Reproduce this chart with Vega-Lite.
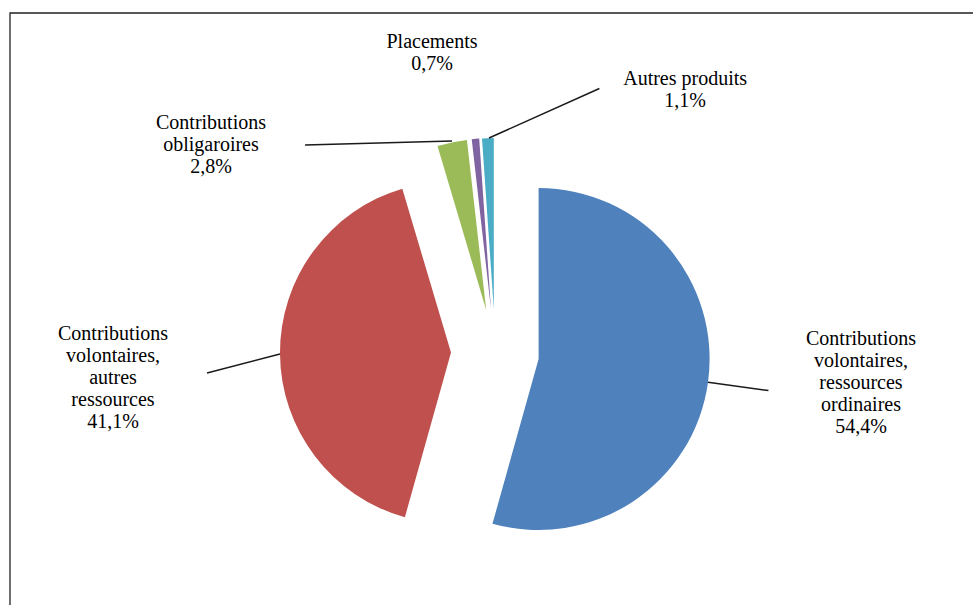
{
  "$schema": "https://vega.github.io/schema/vega-lite/v6.json",
  "autosize": "none",
  "width": 963,
  "height": 592,
  "padding": {"left": 10, "top": 13, "right": 0, "bottom": 0},
  "background": "white",
  "config": {"view": {"stroke": null}},
  "data": {
    "values": [
      {"cat": "Contributions volontaires, ressources ordinaires", "value": 54.4, "order": 1, "label": "Contributions\nvolontaires,\nressources\nordinaires\n54,4%"},
      {"cat": "Contributions volontaires, autres ressources", "value": 41.1, "order": 2, "label": "Contributions\nvolontaires,\nautres\nressources\n41,1%"},
      {"cat": "Contributions obligatoires", "value": 2.8, "order": 3, "label": "Contributions\nobligaroires\n2,8%"},
      {"cat": "Placements", "value": 0.7, "order": 4, "label": "Placements\n0,7%"},
      {"cat": "Autres produits", "value": 1.1, "order": 5, "label": "Autres produits\n1,1%"}
    ]
  },
  "transform": [
    {"stack": "value", "groupby": [], "sort": [{"field": "order", "order": "ascending"}], "as": ["start", "end"]}
  ],
  "layer": [
    {
      "transform": [{"filter": "datum.order == 1"}],
      "mark": {"type": "rect", "fill": "transparent", "stroke": "#222222", "strokeWidth": 1.3, "strokeDash": [963, 1555, 592]},
      "encoding": {}
    },
    {
      "transform": [{"filter": "datum.order == 1"}],
      "mark": {"type": "arc", "outerRadius": 171, "xOffset": 47.1, "yOffset": 50},
      "encoding": {
        "theta": {"field": "start", "type": "quantitative", "scale": {"domain": [0, 100.1]}},
        "theta2": {"field": "end"},
        "color": {"field": "cat", "type": "nominal", "legend": null, "scale": {"domain": ["Contributions volontaires, ressources ordinaires", "Contributions volontaires, autres ressources", "Contributions obligatoires", "Placements", "Autres produits"], "range": ["#4F81BD", "#C0504D", "#9BBB59", "#8064A2", "#4BACC6"]}}
      }
    },
    {
      "transform": [{"filter": "datum.order == 2"}],
      "mark": {"type": "arc", "outerRadius": 171, "xOffset": -40.5, "yOffset": 43.6},
      "encoding": {
        "theta": {"field": "start", "type": "quantitative", "scale": {"domain": [0, 100.1]}},
        "theta2": {"field": "end"},
        "color": {"field": "cat", "type": "nominal", "legend": null}
      }
    },
    {
      "transform": [{"filter": "datum.order == 3"}],
      "mark": {"type": "arc", "outerRadius": 171, "xOffset": -5.3, "yOffset": 0.9},
      "encoding": {
        "theta": {"field": "start", "type": "quantitative", "scale": {"domain": [0, 100.1]}},
        "theta2": {"field": "end"},
        "color": {"field": "cat", "type": "nominal", "legend": null}
      }
    },
    {
      "transform": [{"filter": "datum.order == 4"}],
      "mark": {"type": "arc", "outerRadius": 171, "xOffset": -0.5, "yOffset": 0.2},
      "encoding": {
        "theta": {"field": "start", "type": "quantitative", "scale": {"domain": [0, 100.1]}},
        "theta2": {"field": "end"},
        "color": {"field": "cat", "type": "nominal", "legend": null}
      }
    },
    {
      "transform": [{"filter": "datum.order == 5"}],
      "mark": {"type": "arc", "outerRadius": 171, "xOffset": 2.3, "yOffset": 0},
      "encoding": {
        "theta": {"field": "start", "type": "quantitative", "scale": {"domain": [0, 100.1]}},
        "theta2": {"field": "end"},
        "color": {"field": "cat", "type": "nominal", "legend": null}
      }
    },
    {
      "transform": [{"filter": "datum.order == 1"}, {"fold": ["start", "end"], "as": ["k", "ang"]}, {"aggregate": [{"op": "mean", "field": "ang", "as": "mid"}], "groupby": ["cat"]}],
      "mark": {"type": "arc", "innerRadius": 171, "outerRadius": 232, "xOffset": 47.1, "yOffset": 50, "fill": "transparent", "stroke": "#1a1a1a", "strokeWidth": 1.5},
      "encoding": {
        "theta": {"field": "mid", "type": "quantitative", "scale": {"domain": [0, 100.1]}},
        "theta2": {"field": "mid"}
      }
    },
    {
      "transform": [{"filter": "datum.order == 2"}, {"fold": ["start", "end"], "as": ["k", "ang"]}, {"aggregate": [{"op": "mean", "field": "ang", "as": "mid"}], "groupby": ["cat"]}],
      "mark": {"type": "arc", "innerRadius": 0, "outerRadius": 75.4, "xOffset": -211.5, "yOffset": 45, "thetaOffset": -0.247, "theta2Offset": -0.247, "fill": "transparent", "stroke": "#1a1a1a", "strokeWidth": 1.5},
      "encoding": {
        "theta": {"field": "mid", "type": "quantitative", "scale": {"domain": [0, 100.1]}},
        "theta2": {"field": "mid"}
      }
    },
    {
      "transform": [{"filter": "datum.order == 3"}, {"fold": ["start", "end"], "as": ["k", "ang"]}, {"aggregate": [{"op": "mean", "field": "ang", "as": "mid"}], "groupby": ["cat"]}],
      "mark": {"type": "arc", "innerRadius": 0, "outerRadius": 147, "xOffset": -39.5, "yOffset": -168, "thetaOffset": -1.3973, "theta2Offset": -1.3973, "fill": "transparent", "stroke": "#1a1a1a", "strokeWidth": 1.5},
      "encoding": {
        "theta": {"field": "mid", "type": "quantitative", "scale": {"domain": [0, 100.1]}},
        "theta2": {"field": "mid"}
      }
    },
    {
      "transform": [{"filter": "datum.order == 5"}, {"fold": ["start", "end"], "as": ["k", "ang"]}, {"aggregate": [{"op": "mean", "field": "ang", "as": "mid"}], "groupby": ["cat"]}],
      "mark": {"type": "arc", "innerRadius": 0, "outerRadius": 121, "xOffset": -2.5, "yOffset": -171, "thetaOffset": 1.1837, "theta2Offset": 1.1837, "fill": "transparent", "stroke": "#1a1a1a", "strokeWidth": 1.5},
      "encoding": {
        "theta": {"field": "mid", "type": "quantitative", "scale": {"domain": [0, 100.1]}},
        "theta2": {"field": "mid"}
      }
    },
    {
      "transform": [{"filter": "datum.order == 1"}, {"fold": ["start", "end"], "as": ["k", "ang"]}, {"aggregate": [{"op": "mean", "field": "ang", "as": "mid"}], "groupby": ["cat", "label"]}],
      "mark": {"type": "text", "radius": 366, "dx": 6.9, "dy": -20.2, "font": "Liberation Serif", "fontSize": 20, "lineHeight": 22.2, "lineBreak": "\n", "align": "center", "baseline": "middle", "color": "#000000"},
      "encoding": {
        "theta": {"field": "mid", "type": "quantitative", "scale": {"domain": [0, 100.1]}},
        "text": {"field": "label", "type": "nominal"}
      }
    },
    {
      "transform": [{"filter": "datum.order == 2"}, {"fold": ["start", "end"], "as": ["k", "ang"]}, {"aggregate": [{"op": "mean", "field": "ang", "as": "mid"}], "groupby": ["cat", "label"]}],
      "mark": {"type": "text", "radius": 380, "dx": 1.5, "dy": 21.6, "font": "Liberation Serif", "fontSize": 20, "lineHeight": 22.2, "lineBreak": "\n", "align": "center", "baseline": "middle", "color": "#000000"},
      "encoding": {
        "theta": {"field": "mid", "type": "quantitative", "scale": {"domain": [0, 100.1]}},
        "text": {"field": "label", "type": "nominal"}
      }
    },
    {
      "transform": [{"filter": "datum.order == 3"}, {"fold": ["start", "end"], "as": ["k", "ang"]}, {"aggregate": [{"op": "mean", "field": "ang", "as": "mid"}], "groupby": ["cat", "label"]}],
      "mark": {"type": "text", "radius": 200, "dx": -240.6, "dy": 9.8, "font": "Liberation Serif", "fontSize": 20, "lineHeight": 22.2, "lineBreak": "\n", "align": "center", "baseline": "middle", "color": "#000000"},
      "encoding": {
        "theta": {"field": "mid", "type": "quantitative", "scale": {"domain": [0, 100.1]}},
        "text": {"field": "label", "type": "nominal"}
      }
    },
    {
      "transform": [{"filter": "datum.order == 4"}, {"fold": ["start", "end"], "as": ["k", "ang"]}, {"aggregate": [{"op": "mean", "field": "ang", "as": "mid"}], "groupby": ["cat", "label"]}],
      "mark": {"type": "text", "radius": 300, "dx": -32.2, "dy": 31.7, "font": "Liberation Serif", "fontSize": 20, "lineHeight": 22.2, "lineBreak": "\n", "align": "center", "baseline": "middle", "color": "#000000"},
      "encoding": {
        "theta": {"field": "mid", "type": "quantitative", "scale": {"domain": [0, 100.1]}},
        "text": {"field": "label", "type": "nominal"}
      }
    },
    {
      "transform": [{"filter": "datum.order == 5"}, {"fold": ["start", "end"], "as": ["k", "ang"]}, {"aggregate": [{"op": "mean", "field": "ang", "as": "mid"}], "groupby": ["cat", "label"]}],
      "mark": {"type": "text", "radius": 300, "dx": 204, "dy": 69.8, "font": "Liberation Serif", "fontSize": 20, "lineHeight": 22.2, "lineBreak": "\n", "align": "center", "baseline": "middle", "color": "#000000"},
      "encoding": {
        "theta": {"field": "mid", "type": "quantitative", "scale": {"domain": [0, 100.1]}},
        "text": {"field": "label", "type": "nominal"}
      }
    }
  ]
}
